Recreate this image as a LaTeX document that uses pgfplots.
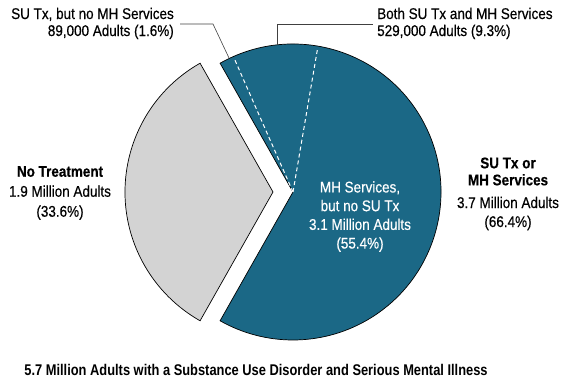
\documentclass[border=0pt]{standalone}
\usepackage{fontspec}
\setmainfont{Liberation Sans}[FakeStretch=0.87, FakeBold=0.4]
\newfontfamily\titlefont{Liberation Sans}[FakeStretch=0.83]
\usepackage{pgfplots}
\pgfplotsset{compat=1.18}
\definecolor{teal1}{RGB}{27,104,134}
\definecolor{gray1}{RGB}{211,211,211}
% shares (percent)
\def\pSUonly{1.6}
\def\pBoth{9.3}
\def\pMHonly{55.4}
\def\pNone{33.6}
\begin{document}
\begin{tikzpicture}
\begin{axis}[hide axis, scale only axis, width=567pt, height=391pt,
  xmin=0, xmax=567, ymin=0, ymax=391, clip=false]
\pgfmathsetmacro{\gA}{180-\pNone*1.8}
\pgfmathsetmacro{\gB}{180+\pNone*1.8}
\pgfmathsetmacro{\dA}{\gA-\pSUonly*3.6}
\pgfmathsetmacro{\dB}{\dA-\pBoth*3.6}
% gray slice (exploded)
\filldraw[fill=gray1, draw=black, line width=0.7pt] (axis cs:273,199) -- ++(\gA:148pt) arc[start angle=\gA, end angle=\gB, radius=148pt] -- cycle;
% blue slices
\filldraw[fill=teal1, draw=black, line width=0.7pt] (axis cs:293,199) -- ++(\gA:148pt) arc[start angle=\gA, end angle=\gB-360, radius=148pt] -- cycle;
\draw[white, line width=1pt, dash pattern=on 4pt off 3pt] (axis cs:293,199) -- ++(\dA:147pt);
\draw[white, line width=1pt, dash pattern=on 4pt off 3pt] (axis cs:293,199) -- ++(\dB:147pt);
% leader lines
\draw[black!75, line width=0.6pt] (axis cs:180,367) -- (axis cs:213,367) -- (axis cs:229,333);
\draw[black!75, line width=0.6pt] (axis cs:277,346) -- (axis cs:277,367) -- (axis cs:373,367);
% labels
\node[anchor=east, align=right, font=\fontsize{15.5}{17}\selectfont, inner sep=0pt] at (axis cs:174,367.5) {SU Tx, but no MH Services\\89,000 Adults (1.6\%)};
\node[anchor=west, align=left, font=\fontsize{15.5}{17}\selectfont, inner sep=0pt] at (axis cs:377,367.5) {Both SU Tx and MH Services\\529,000 Adults (9.3\%)};
\node[align=center, font=\fontsize{15.5}{20}\selectfont, inner sep=0pt] at (axis cs:60,198) {\textbf{No Treatment}\\1.9 Million Adults\\(33.6\%)};
\node[align=center, font=\fontsize{15.5}{18.7}\selectfont, inner sep=0pt, text=white] at (axis cs:360,174.5) {MH Services,\\but no SU Tx\\3.1 Million Adults\\(55.4\%)};
\node[align=center, font=\fontsize{15.5}{17}\selectfont\bfseries, inner sep=0pt] at (axis cs:508,219.5) {SU Tx or\\MH Services};
\node[align=center, font=\fontsize{15.5}{19}\selectfont, inner sep=0pt] at (axis cs:508,177.5) {3.7 Million Adults\\(66.4\%)};
\node[font=\titlefont\fontsize{15.5}{17}\selectfont\bfseries, inner sep=0pt] at (axis cs:256,21) {5.7 Million Adults with a Substance Use Disorder and Serious Mental Illness};
\end{axis}
\pgfresetboundingbox
\useasboundingbox (current axis.south west) rectangle (current axis.north east);
\end{tikzpicture}
\end{document}
